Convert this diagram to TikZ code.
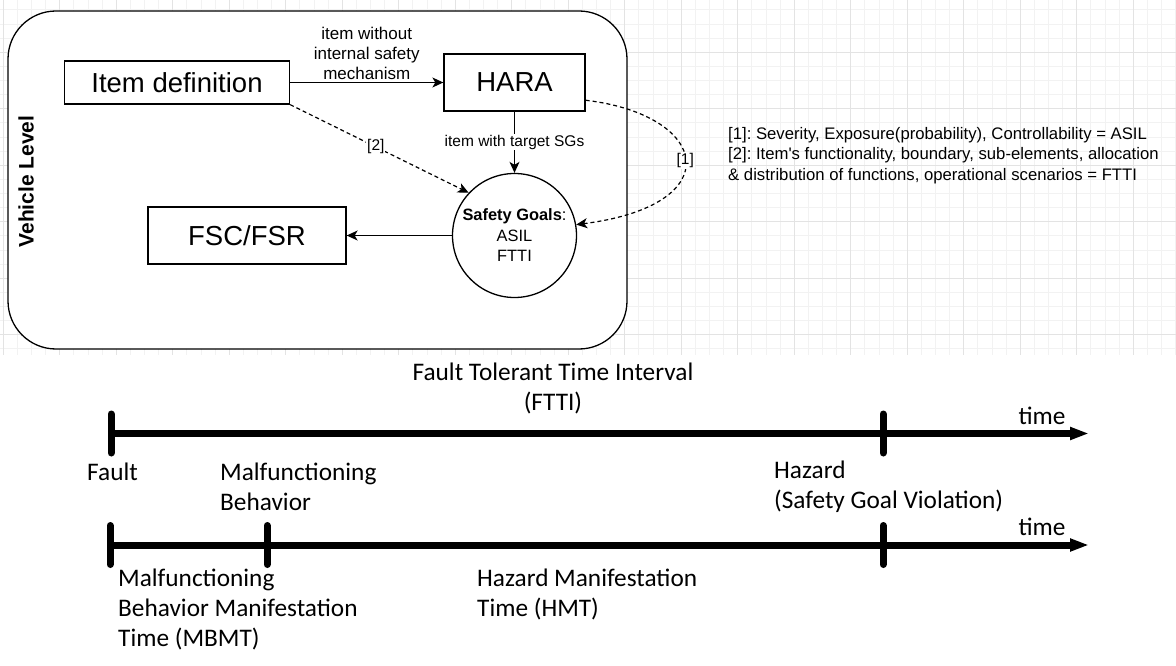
\documentclass[tikz,border=0pt]{standalone}
\usepackage{fontspec}
\usepackage{tikz}
\usetikzlibrary{arrows.meta}

\newfontfamily\arialfont{Liberation Sans}
\newfontfamily\calibrifont{Carlito}
\frenchspacing

\tikzset{
    box/.style={draw, line width=1.3pt, fill=white, inner sep=0pt,
        font=\arialfont\fontsize{27.5}{32}\selectfont},
    flow/.style={line width=1.3pt, -{Stealth[length=11pt,width=10pt,inset=3pt]}},
    dep/.style={line width=1.2pt, dash pattern=on 4pt off 3pt,
        -{Stealth[length=11pt,width=10pt,inset=3pt]}},
    edgelabel/.style={font=\arialfont\fontsize{15.5}{20.5}\selectfont,
        fill=white, inner sep=1pt, align=center},
    timeline/.style={line width=7pt, -{Triangle[length=19pt,width=12pt]}},
    tick/.style={line width=7pt, line cap=round},
    tltext/.style={font=\calibrifont\fontsize{25.3}{30}\selectfont,
        inner sep=0pt, align=left},
    minorgrid/.style={draw=black!5, line width=0.8pt},
    majorgrid/.style={draw=black!11, line width=1pt}
}

\begin{document}
\begin{tikzpicture}[x=1pt,y=-1pt]

        % Canvas size
        \useasboundingbox (0,0) rectangle (1176,666);
        \fill[white] (0,0) rectangle (1176,666);

        % Background grid (upper part only)
        \def\gridStep{14.125}
        \def\gridBottom{355}
        \foreach \i in {0,...,83} {
            \pgfmathsetmacro{\gx}{3.2+\gridStep*\i}
            \draw[minorgrid] (\gx,0) -- (\gx,\gridBottom);
        }
        \foreach \j in {0,...,24} {
            \pgfmathsetmacro{\gy}{9.8+\gridStep*\j}
            \draw[minorgrid] (0,\gy) -- (1176,\gy);
        }
        \foreach \i in {0,...,20} {
            \pgfmathsetmacro{\gx}{3.2+4*\gridStep*\i}
            \draw[majorgrid] (\gx,0) -- (\gx,\gridBottom);
        }
        \foreach \j in {0,...,5} {
            \pgfmathsetmacro{\gy}{9.8+4*\gridStep*(\j+0.75)}
            \draw[majorgrid] (0,\gy) -- (1176,\gy);
        }

        % Vehicle level frame
        \node[draw, line width=1.3pt, fill=white, rounded corners=48pt,
              minimum width=619pt, minimum height=338pt] (frame) at (317.5,180) {};
        \node[rotate=90, font=\arialfont\bfseries\fontsize{21}{24}\selectfont]
            (vlevel) at (26,181.5) {Vehicle Level};

        % Blocks
        \node[box, minimum width=225pt, minimum height=43pt] (itemdef) at (177,82.5) {Item definition};
        \node[box, minimum width=141pt, minimum height=57pt] (hara) at (514.5,82.5) {HARA};
        \node[box, minimum width=198pt, minimum height=57pt] (fsc) at (247,235.5) {FSC/FSR};
        \node[draw, circle, line width=1.3pt, fill=white, minimum size=124pt, inner sep=0pt,
              align=center, font=\arialfont\fontsize{16.4}{20.5}\selectfont]
            (goals) at (514.5,235.5) {\textbf{Safety Goals}:\\ASIL\\FTTI};

        % Solid connectors
        \draw[flow] (itemdef) -- (hara)
            node[edgelabel, midway, above=1pt, fill=none,
                 font=\arialfont\fontsize{17}{20.3}\selectfont] (lblwithout)
                {item without\\internal safety\\mechanism};
        \draw[flow] (hara) -- (goals)
            node[edgelabel, midway] (lbltarget) {item with target SGs};
        \draw[flow] (goals) -- (fsc);

        % Dashed connectors
        \draw[dep] (itemdef.south east) -- (goals.137)
            node[edgelabel, pos=0.48] (lbltwo) {[2]};
        \draw[dep] (hara.-14) .. controls (710,115) and (730,205) .. (goals.10)
            node[edgelabel, pos=0.5] (lblone) {[1]};

        % Notes
        \node[anchor=west, align=left, inner sep=0pt,
              font=\arialfont\fontsize{16.7}{20.5}\selectfont] (notes) at (728,155.5)
            {{[1]}: Severity, Exposure(probability), Controllability = ASIL\\
             {[2]}: Item's functionality, boundary, sub-elements, allocation\\
             \& distribution of functions, operational scenarios = FTTI};

        % Timelines
        \def\lineOneY{433.5}
        \def\lineTwoY{545}
        \def\tickHalf{19.5}
        \coordinate (faultA) at (111,\lineOneY);
        \coordinate (hazardA) at (883,\lineOneY);
        \coordinate (endA) at (1089,\lineOneY);
        \coordinate (faultB) at (110,\lineTwoY);
        \coordinate (malB) at (267,\lineTwoY);
        \coordinate (hazardB) at (883,\lineTwoY);
        \coordinate (endB) at (1089,\lineTwoY);

        \draw[timeline] (faultA) -- (endA);
        \draw[timeline] (faultB) -- (endB);
        \foreach \t in {faultA,hazardA,faultB,malB,hazardB} {
            \draw[tick] ([yshift=\tickHalf pt]\t) -- ([yshift=-\tickHalf pt]\t);
        }

        % Timeline labels
        \node[tltext, align=center] (ftti) at (553,388) {Fault Tolerant Time Interval\\(FTTI)};
        \node[tltext] (timeA) at (1042,416) {time};
        \node[tltext] (timeB) at (1042,527) {time};
        \node[tltext] (fault) at (112.5,471.6) {Fault};
        \node[tltext, anchor=west] (malfunc) at (220,487) {Malfunctioning\\Behavior};
        \node[tltext, anchor=west] (hazard) at (774,487) {Hazard\\(Safety Goal Violation)};
        \node[tltext, anchor=west] (mbmt) at (118,609) {Malfunctioning\\Behavior Manifestation\\Time (MBMT)};
        \node[tltext, anchor=west] (hmt) at (477,594) {Hazard Manifestation\\Time (HMT)};

\end{tikzpicture}
\end{document}
